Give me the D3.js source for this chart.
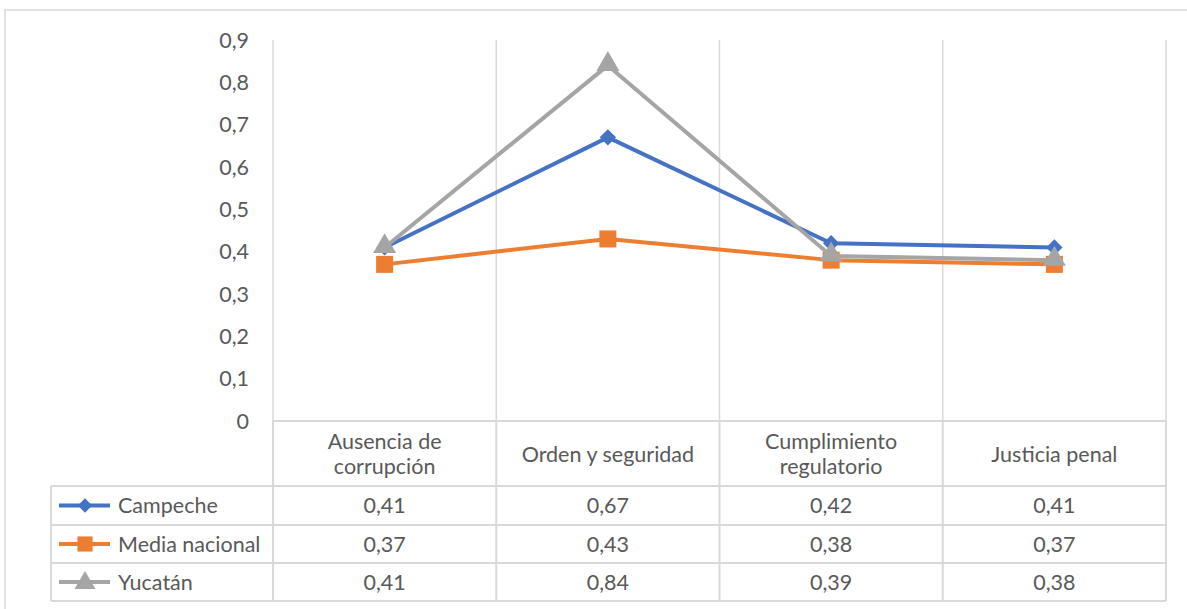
<!DOCTYPE html>
<html><head><meta charset="utf-8">
<script src="https://cdn.jsdelivr.net/npm/d3@7"></script>
<style>body{margin:0;background:#fff;} svg{display:block;} text{font-family:Lato,"Open Sans",sans-serif;fill:#595959;}</style>
</head><body>
<svg id="c" width="1187" height="609"></svg>
<script>
const categories = [["Ausencia de","corrupción"],["Orden y seguridad"],["Cumplimiento","regulatorio"],["Justicia penal"]];
const seriesNames = ["Campeche","Media nacional","Yucatán"];
const campeche = [0.41,0.67,0.42,0.41];
const mediaNacional = [0.37,0.43,0.38,0.37];
const yucatan = [0.41,0.84,0.39,0.38];
const yTicks = [0,0.1,0.2,0.3,0.4,0.5,0.6,0.7,0.8,0.9];
const colors = ["#4472C4","#ED7D31","#A5A5A5"];
const shapes = [d3.symbolDiamond2 || d3.symbolDiamond, d3.symbolSquare, d3.symbolTriangle];
const values = [campeche, mediaNacional, yucatan];

const svg = d3.select("#c");
const L=273, R=1166, T=40, B=421;
const grid="#D9D9D9";
const fs = 21.5;

// outer border
svg.append("rect").attr("x",5).attr("y",10).attr("width",1190).attr("height",620)
  .attr("fill","none").attr("stroke",grid).attr("stroke-width",1.5);

const x = d3.scaleBand().domain(d3.range(categories.length)).range([L,R]).paddingInner(0).paddingOuter(0);
const y = d3.scaleLinear().domain([0,0.9]).range([B,T]);

// vertical gridlines at band boundaries
const bounds = d3.range(categories.length+1).map(i=> i<categories.length ? x(i) : x(i-1)+x.bandwidth());
svg.append("g").selectAll("line").data(bounds).join("line")
  .attr("x1",d=>d).attr("x2",d=>d).attr("y1",T).attr("y2",B)
  .attr("stroke",grid).attr("stroke-width",1.5);

// y labels
svg.append("g").selectAll("text").data(yTicks).join("text")
  .attr("x",249).attr("y",d=>y(d)).attr("dy","0.35em").attr("text-anchor","end")
  .attr("font-size",fs).text(d=>d3.format(".1f")(d).replace(".",",").replace(/^0,0$/,"0"));

// table
const rowTops=[421,486,525,563,601];
const tb = svg.append("g");
tb.append("line").attr("x1",L).attr("x2",R).attr("y1",421).attr("y2",421).attr("stroke",grid).attr("stroke-width",2);
[486,525,563,601].forEach(yy=>tb.append("line").attr("x1",51).attr("x2",R).attr("y1",yy).attr("y2",yy).attr("stroke",grid).attr("stroke-width",2));
bounds.forEach(bx=>tb.append("line").attr("x1",bx).attr("x2",bx).attr("y1",421).attr("y2",601).attr("stroke",grid).attr("stroke-width",2));
tb.append("line").attr("x1",51).attr("x2",51).attr("y1",486).attr("y2",601).attr("stroke",grid).attr("stroke-width",2);

// category header
categories.forEach((c,i)=>{
  const cx = x(i)+x.bandwidth()/2;
  const cy = 454;
  const lh = 25;
  c.forEach((line,j)=>{
    tb.append("text").attr("x",cx).attr("y",cy+(j-(c.length-1)/2)*lh).attr("dy","0.35em")
      .attr("text-anchor","middle").attr("font-size",fs).text(line);
  });
});

// rows
values.forEach((vals,si)=>{
  const top=rowTops[si+1], bot=rowTops[si+2];
  const cy=(top+bot)/2;
  vals.forEach((v,i)=>{
    tb.append("text").attr("x",x(i)+x.bandwidth()/2).attr("y",cy).attr("dy","0.35em")
      .attr("text-anchor","middle").attr("font-size",fs).text(d3.format(".2f")(v).replace(".",","));
  });
  tb.append("line").attr("x1",59).attr("x2",110).attr("y1",cy).attr("y2",cy).attr("stroke",colors[si]).attr("stroke-width",4);
  const sizes=[130,230,190];
  tb.append("path").attr("d",d3.symbol().type(shapes[si]).size(sizes[si])()).attr("transform",`translate(85,${cy+(si==2?1:0)})`).attr("fill",colors[si]);
  tb.append("text").attr("x",118).attr("y",cy).attr("dy","0.35em").attr("font-size",fs).text(seriesNames[si]);
});

// lines
const line = d3.line().x((d,i)=>x(i)+x.bandwidth()/2).y(d=>y(d));
values.forEach((vals,si)=>{
  const g=svg.append("g");
  g.append("path").attr("d",line(vals)).attr("fill","none").attr("stroke",colors[si]).attr("stroke-width",4).attr("stroke-linejoin","round");
  const sizes=[170,290,230];
  g.selectAll("path.m").data(vals).join("path").attr("class","m")
    .attr("d",d3.symbol().type(shapes[si]).size(sizes[si])())
    .attr("transform",(d,i)=>`translate(${x(i)+x.bandwidth()/2},${y(d)+(si==2?-1:0)})`)
    .attr("fill",colors[si]);
});
</script>
</body></html>
